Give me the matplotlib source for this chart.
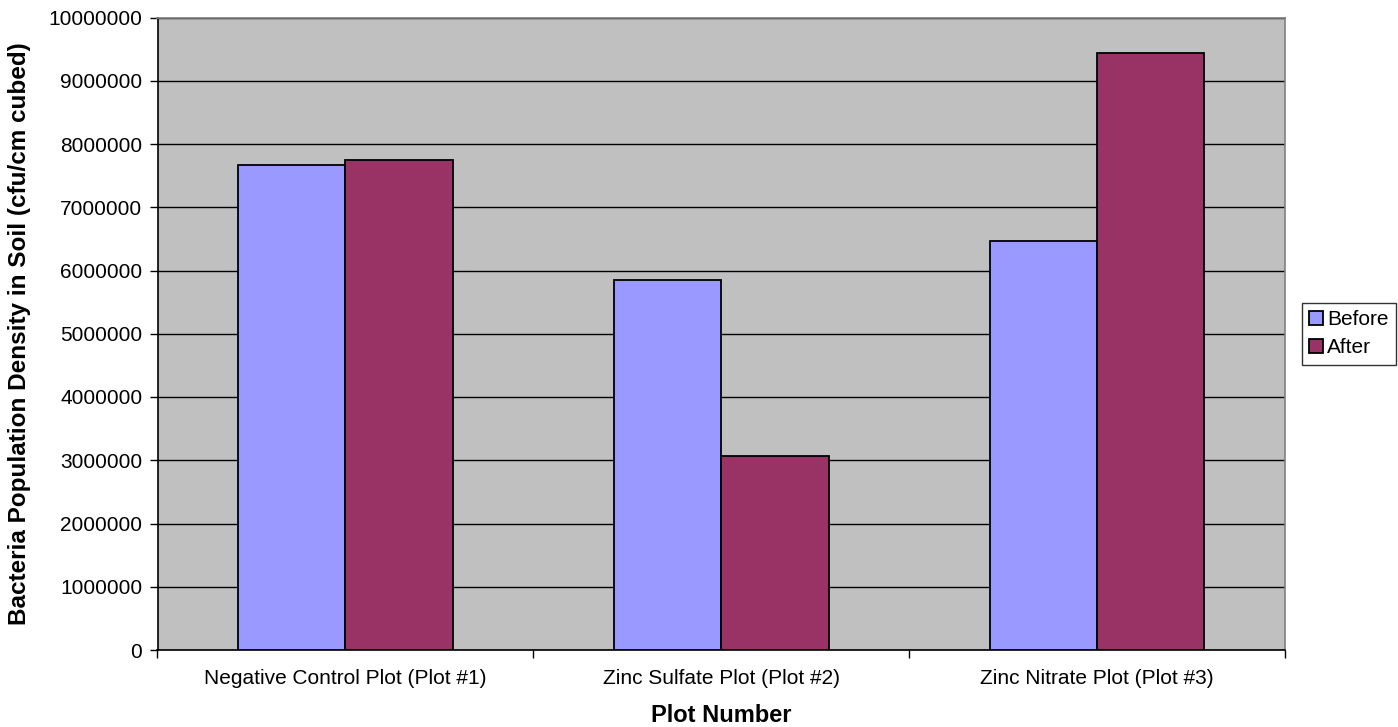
import matplotlib
matplotlib.use("Agg")
import matplotlib.pyplot as plt
import numpy as np

categories = ["Negative Control Plot (Plot #1)", "Zinc Sulfate Plot (Plot #2)", "Zinc Nitrate Plot (Plot #3)"]
before = [7670000, 5855000, 6465000]
after = [7745000, 3060000, 9445000]
y_ticks = [0, 1000000, 2000000, 3000000, 4000000, 5000000, 6000000, 7000000, 8000000, 9000000, 10000000]

plt.rcParams['font.family'] = ['Liberation Sans', 'DejaVu Sans']

W, H = 1398, 727
fig = plt.figure(figsize=(W / 100, H / 100), dpi=100)
ax = fig.add_axes([157.5 / W, 77 / H, (1285 - 157.5) / W, (650 - 17.5) / H])
ax.set_facecolor('#C0C0C0')

x = np.arange(len(categories))
w = 1 / 3.5
ax.bar(x - w / 2, before, w, color='#9999FF', edgecolor='black', linewidth=1.3, label='Before', zorder=3)
ax.bar(x + w / 2, after, w, color='#993366', edgecolor='black', linewidth=1.3, label='After', zorder=3)

ax.set_xlim(-0.5, len(categories) - 0.5)
ax.set_ylim(0, 10000000)
ax.set_yticks(y_ticks)
ax.set_yticklabels([str(v) for v in y_ticks], fontsize=15)
ax.yaxis.grid(True, color='black', linewidth=1.0, zorder=1)
ax.set_axisbelow(True)

ax.set_xticks(np.arange(len(categories) + 1) - 0.5)
ax.set_xticklabels([])
ax.set_xticks(x, minor=True)
ax.set_xticklabels(categories, minor=True, fontsize=15)
ax.tick_params(axis='x', which='minor', length=0, pad=14)
ax.tick_params(axis='x', which='major', length=6, width=1, color='black', direction='out')
ax.tick_params(axis='y', length=6, width=1, color='black', direction='out', pad=5)

for s in ['top', 'right']:
    ax.spines[s].set_color('#808080')
    ax.spines[s].set_linewidth(1.2)
for s in ['left', 'bottom']:
    ax.spines[s].set_color('black')
    ax.spines[s].set_linewidth(1.2)

fig.text(721 / W, 1 - 716 / H, 'Plot Number', fontsize=17, fontweight='bold',
         ha='center', va='center')
fig.text(20 / W, 1 - 334 / H, 'Bacteria Population Density in Soil (cfu/cm cubed)', fontsize=17.5,
         fontweight='bold', rotation=90, ha='center', va='center')

leg = ax.legend(loc='center left', bbox_to_anchor=(1.015, 0.5), fontsize=15, frameon=True,
                fancybox=False, edgecolor='black', handlelength=0.65, handleheight=0.65,
                handletextpad=0.2, borderpad=0.35, labelspacing=0.45, borderaxespad=0)
leg.get_frame().set_linewidth(1.0)

fig.savefig('out.png', dpi=100, facecolor='white')
